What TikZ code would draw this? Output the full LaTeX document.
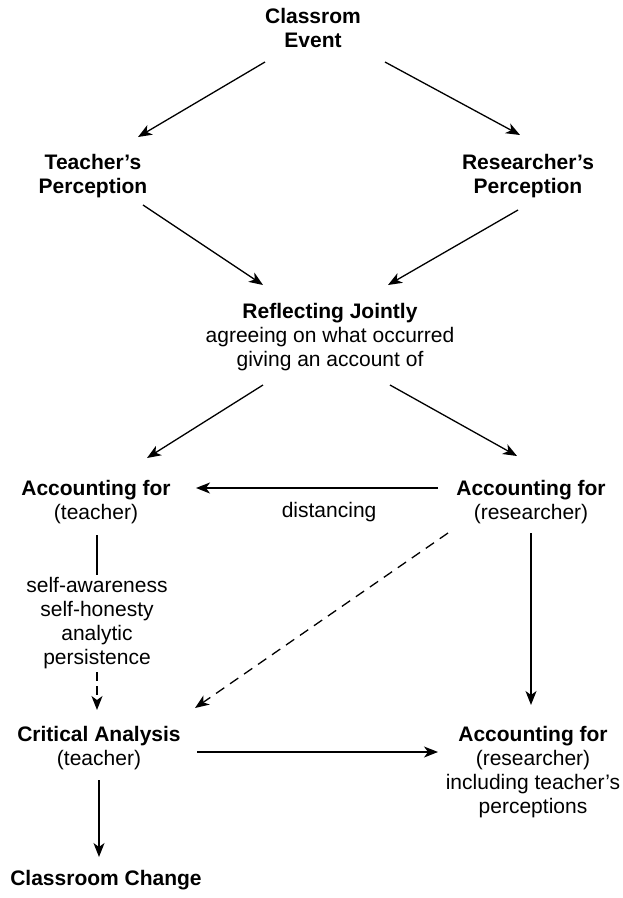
\documentclass[tikz,border=0pt]{standalone}
\usepackage{fontspec}
\setmainfont{Liberation Sans}
\usetikzlibrary{arrows.meta}

\tikzset{
  txt/.style={align=center, inner sep=0pt, font=\fontsize{21}{24}\selectfont},
  arr/.style={-{Stealth[length=14pt,width=11pt,inset=4pt]}, line width=1.3pt},
}

\begin{document}
\begin{tikzpicture}[x=1pt, y=1pt]
  \useasboundingbox (0,0) rectangle (622,-898);

  % Top: the event and the two perceptions
  \node[txt] (ev) at (313,-28) {\textbf{Classrom}\\\textbf{Event}};
  \node[txt] (tp) at (93,-176) {\textbf{Teacher’s}\\\textbf{Perception}};
  \node[txt] (rp) at (528,-176) {\textbf{Researcher’s}\\\textbf{Perception}};

  % Joint reflection
  \node[txt] (rj) at (330,-337) {\textbf{Reflecting Jointly}\\agreeing on what occurred\\giving an account of};

  % Accounting for
  \node[txt] (at) at (96,-502) {\textbf{Accounting for}\\(teacher)};
  \node[txt] (ar) at (531,-502) {\textbf{Accounting for}\\(researcher)};
  \node[txt] (sa) at (97,-623) {self-awareness\\self-honesty\\analytic\\persistence};

  % Lower row
  \node[txt] (ca) at (99,-748) {\textbf{Critical Analysis}\\(teacher)};
  \node[txt] (ari) at (533,-772) {\textbf{Accounting for}\\(researcher)\\including teacher’s\\perceptions};
  \node[txt] (cc) at (106,-880) {\textbf{Classroom Change}};

  % Connectors
  \draw[arr] ([shift={(-48,-34)}]ev.center) -- ([shift={(45,39)}]tp.center);
  \draw[arr] ([shift={(72,-34)}]ev.center) -- ([shift={(-8,41)}]rp.center);
  \draw[arr] ([shift={(50,-29)}]tp.center) -- ([shift={(-67,52)}]rj.center);
  \draw[arr] ([shift={(-10,-34)}]rp.center) -- ([shift={(58,52)}]rj.center);
  \draw[arr] ([shift={(-67,-48)}]rj.center) -- ([shift={(51,44)}]at.center);
  \draw[arr] ([shift={(60,-48)}]rj.center) -- ([shift={(-14,46)}]ar.center);
  \draw[arr] ([shift={(-93,14)}]ar.center) -- ([shift={(100,14)}]at.center)
    node[txt, pos=0.45, below=14pt] (dist) {distancing};
  \draw[line width=1.3pt] ([shift={(1,-33)}]at.center) -- ([shift={(0,48)}]sa.center);
  \draw[arr, dashed, dash pattern=on 9pt off 5pt] ([shift={(0,-49)}]sa.center) -- ([shift={(-2,38)}]ca.center);
  \draw[arr, dashed, dash pattern=on 10pt off 7pt] ([shift={(-83,-31)}]ar.center) -- ([shift={(96,40)}]ca.center);
  \draw[arr] ([shift={(0,-31)}]ar.center) -- ([shift={(-2,67)}]ari.center);
  \draw[arr] ([shift={(98,-4)}]ca.center) -- ([shift={(-95,20)}]ari.center);
  \draw[arr] ([shift={(0,-32)}]ca.center) -- ([shift={(-7,23)}]cc.center);
\end{tikzpicture}
\end{document}
